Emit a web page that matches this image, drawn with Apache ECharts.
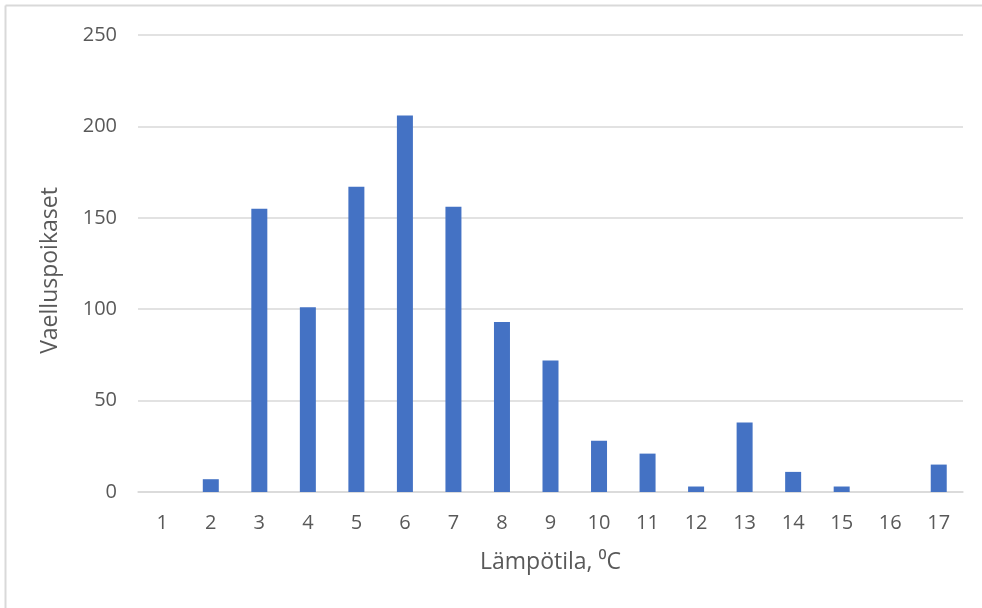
<!DOCTYPE html>
<html><head><meta charset="utf-8">
<script src="https://cdn.jsdelivr.net/npm/echarts@6/dist/echarts.min.js"></script>
<style>html,body{margin:0;padding:0;background:#fff}#c{width:982px;height:608px}</style>
</head><body><div id="c"></div>
<script>
const categories = ['1','2','3','4','5','6','7','8','9','10','11','12','13','14','15','16','17'];
const values = [0, 7, 155, 101, 167, 206, 156, 93, 72, 28, 21, 3, 38, 11, 3, 0, 15];
const yTicks = [0, 50, 100, 150, 200, 250];
const xTitle = 'Lämpötila, ⁰C';
const yTitle = 'Vaelluspoikaset';

const chart = echarts.init(document.getElementById('c'));
const font = '"Open Sans", "Liberation Sans", sans-serif';
chart.setOption({
  animation: false,
  graphic: [
    {type: 'line', shape: {x1: 5.5, y1: 5.5, x2: 982, y2: 5.5}, style: {stroke: '#d9d9d9', lineWidth: 2}},
    {type: 'line', shape: {x1: 5.5, y1: 5.5, x2: 5.5, y2: 608}, style: {stroke: '#d9d9d9', lineWidth: 2}}
  ],
  grid: {left: 138, right: 19, top: 35, bottom: 116, containLabel: false},
  xAxis: {
    type: 'category', data: categories,
    name: xTitle, nameLocation: 'middle', nameGap: 59,
    nameTextStyle: {color: '#595959', fontSize: 23, fontFamily: font},
    axisLine: {lineStyle: {color: '#d9d9d9', width: 1.5}},
    axisTick: {show: false},
    axisLabel: {color: '#595959', fontSize: 20, fontFamily: font, margin: 21}
  },
  yAxis: {
    type: 'value', min: yTicks[0], max: yTicks[yTicks.length - 1], interval: 50,
    name: yTitle, nameLocation: 'middle', nameGap: 76, nameRotate: 90,
    nameTextStyle: {color: '#595959', fontSize: 23, fontFamily: font, padding: [0, 14, 0, 0]},
    axisLine: {show: false}, axisTick: {show: false},
    axisLabel: {color: '#595959', fontSize: 20, fontFamily: font, margin: 21},
    splitLine: {lineStyle: {color: '#d9d9d9', width: 1.5}}
  },
  series: [{
    type: 'bar', data: values, barWidth: 16,
    itemStyle: {color: '#4472C4'}
  }]
});
</script></body></html>
